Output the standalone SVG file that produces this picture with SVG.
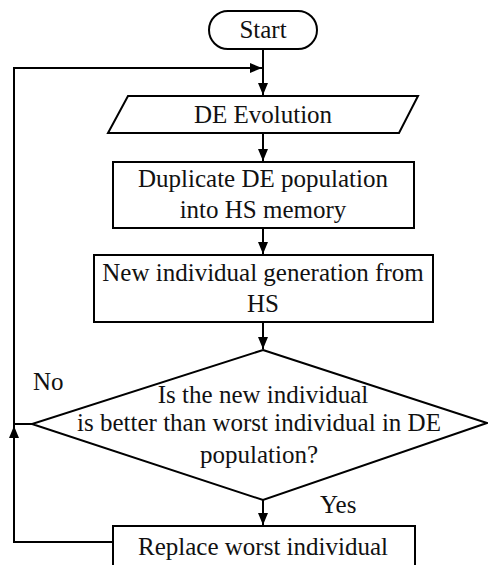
<svg xmlns="http://www.w3.org/2000/svg" width="488" height="565" viewBox="0 0 488 565">
<defs>
<marker id="ah" markerWidth="12" markerHeight="10" refX="12" refY="5" orient="auto" markerUnits="userSpaceOnUse">
<path d="M0,0 L12,5 L0,10 Z" fill="#000"/>
</marker>
</defs>
<style>
.s{fill:#fff;stroke:#000;stroke-width:2}
.c{fill:none;stroke:#000;stroke-width:2}
text{font-family:'Liberation Serif','DejaVu Serif',serif;font-size:25px;fill:#111}
.m{text-anchor:middle}
</style>
<rect width="488" height="565" fill="#fff"/>
<g id="connectors">
<path class="c" d="M263,49 V95" marker-end="url(#ah)"/>
<path class="c" d="M113,542 H14 V68 H262" marker-end="url(#ah)"/>
<path class="c" d="M14,500 V426" marker-end="url(#ah)"/>
<path class="c" d="M32,424 H14"/>
<path class="c" d="M263,133 V161" marker-end="url(#ah)"/>
<path class="c" d="M263,228 V254" marker-end="url(#ah)"/>
<path class="c" d="M263,322 V349" marker-end="url(#ah)"/>
<path class="c" d="M263,500 V525" marker-end="url(#ah)"/>
</g>
<g font-family="Liberation Serif, DejaVu Serif, serif">
<g id="start">
<rect class="s" x="209" y="11" width="108" height="38" rx="19"/>
<text class="m" x="263" y="38">Start</text>
</g>
<g id="de-evolution">
<polygon class="s" points="128,96 418,96 399,133 108,133"/>
<text class="m" x="263" y="123">DE Evolution</text>
</g>
<g id="duplicate">
<rect class="s" x="113" y="162" width="301" height="66"/>
<text class="m" x="263" y="187">Duplicate DE population</text>
<text class="m" x="263" y="218">into HS memory</text>
</g>
<g id="new-individual">
<rect class="s" x="94" y="255" width="339" height="67"/>
<text class="m" x="263" y="281">New individual generation from</text>
<text class="m" x="263" y="312">HS</text>
</g>
<g id="decision">
<polygon class="s" points="263,350 487,423 263,500 32,424"/>
<text class="m" x="263" y="403">Is the new individual</text>
<text class="m" x="259" y="431">is better than worst individual in DE</text>
<text class="m" x="259" y="463">population?</text>
</g>
<text x="33" y="390">No</text>
<text x="320" y="513">Yes</text>
<g id="replace">
<rect class="s" x="113" y="526" width="302" height="44"/>
<text class="m" x="263" y="555">Replace worst individual</text>
</g>
</g>
</svg>
